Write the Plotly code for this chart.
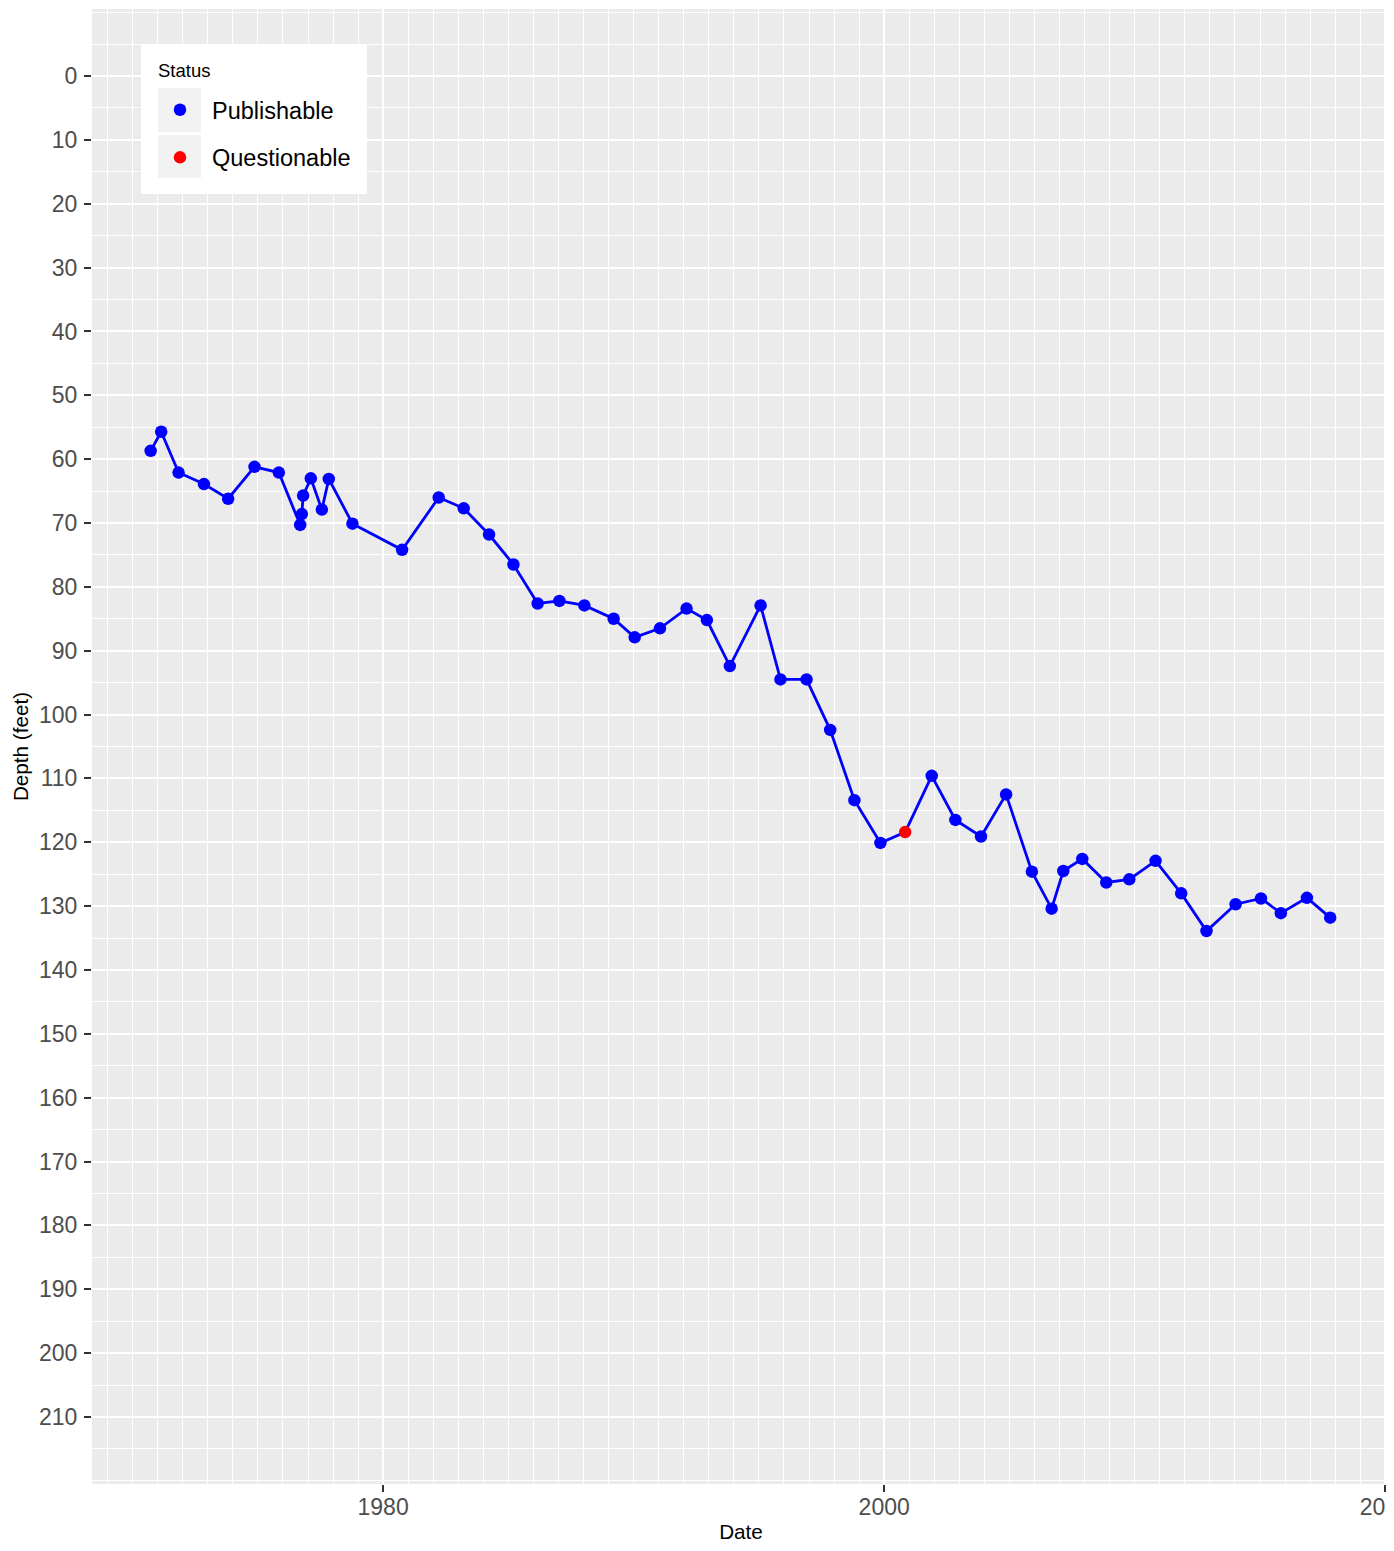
import pandas as pd
import plotly.graph_objects as go

# groundwater level record, depth below land surface
dates = [
    "1970-09-21", "1971-02-22", "1971-11-02", "1972-11-06", "1973-10-25",
    "1974-11-13", "1975-11-03", "1976-09-09", "1976-10-03", "1976-10-22",
    "1977-02-11", "1977-07-22", "1977-10-31", "1978-10-11", "1980-10-04",
    "1982-03-22", "1983-03-21", "1984-03-24", "1985-03-15", "1986-03-03",
    "1987-01-14", "1988-01-13", "1989-03-15", "1990-01-16", "1991-01-19",
    "1992-02-11", "1992-12-03", "1993-11-03", "1995-01-25", "1995-11-11",
    "1996-11-25", "1997-11-05", "1998-10-24", "1999-11-07", "2000-11-02",
    "2001-11-24", "2002-11-04", "2003-11-13", "2004-11-12", "2005-11-23",
    "2006-09-07", "2007-02-24", "2007-11-28", "2008-11-12", "2009-10-13",
    "2010-10-31", "2011-11-09", "2012-11-12", "2014-01-10", "2015-01-15",
    "2015-11-01", "2016-11-15", "2017-10-20",
]
depth = [
    58.7, 55.7, 62.1, 63.9, 66.2,
    61.2, 62.1, 70.3, 68.6, 65.7,
    63.0, 67.9, 63.1, 70.1, 74.2,
    66.0, 67.7, 71.8, 76.5, 82.6,
    82.2, 82.9, 85.0, 87.9, 86.5,
    83.4, 85.2, 92.4, 82.9, 94.5,
    94.5, 102.4, 113.4, 120.1, 118.4,
    109.6, 116.5, 119.1, 112.5, 124.6,
    130.4, 124.5, 122.6, 126.3, 125.8,
    122.9, 128.0, 133.9, 129.7, 128.8,
    131.1, 128.7, 131.8,
]
status = ["Publishable"] * 34 + ["Questionable"] + ["Publishable"] * 18

status_colors = {"Publishable": "#0000FF", "Questionable": "#FF0000"}

depth_ticks = list(range(0, 211, 10))

df = pd.DataFrame({"Date": pd.to_datetime(dates), "Depth": depth, "Status": status})

# the page body adds an 8px margin, so the figure is shifted and trimmed
W, H = 1386, 1535
L, R, T, B = 84, 4, 1, 59
PW, PH = W - L - R, H - T - B
OFF = 8


def px_x(x):
    # screen pixel -> paper fraction
    return (x - OFF - L) / PW


def px_y(y):
    return (H - B - (y - OFF)) / PH


FONT = "Liberation Sans, Arial, sans-serif"

fig = go.Figure()

fig.add_trace(go.Scatter(
    x=df.Date, y=df.Depth, mode="lines",
    line=dict(color="#0000FF", width=2.8),
    showlegend=False, hoverinfo="skip",
))

for i, (name, color) in enumerate(status_colors.items()):
    sub = df[df.Status == name]
    fig.add_trace(go.Scatter(
        x=sub.Date, y=sub.Depth, mode="markers", name=name,
        legendgroup=f"g{i}",
        marker=dict(color=color, size=12.5, line=dict(width=0)),
    ))

# legend background and key boxes
shapes = [
    dict(type="rect", xref="paper", yref="paper",
         x0=px_x(141), x1=px_x(367), y0=px_y(194), y1=px_y(45),
         fillcolor="white", line=dict(width=0), layer="above"),
    dict(type="rect", xref="paper", yref="paper",
         x0=px_x(158), x1=px_x(201), y0=px_y(132), y1=px_y(88),
         fillcolor="#F2F2F2", line=dict(width=0), layer="above"),
    dict(type="rect", xref="paper", yref="paper",
         x0=px_x(158), x1=px_x(201), y0=px_y(178), y1=px_y(135),
         fillcolor="#F2F2F2", line=dict(width=0), layer="above"),
]

fig.update_layout(
    width=W, height=H,
    margin=dict(l=L, r=R, t=T, b=B, autoexpand=False),
    paper_bgcolor="white",
    plot_bgcolor="#EBEBEB",
    font=dict(family=FONT, color="black"),
    shapes=shapes,
    legend=dict(
        x=px_x(148), y=px_y(88), xanchor="left", yanchor="top",
        bgcolor="rgba(0,0,0,0)",
        font=dict(size=23.5, color="black"),
        traceorder="grouped", tracegroupgap=14,
        itemwidth=54,
    ),
    annotations=[
        dict(text="Status", xref="paper", yref="paper",
             x=px_x(156), y=px_y(70), xanchor="left", yanchor="middle",
             showarrow=False, font=dict(size=18.5, color="black")),
    ],
)

fig.update_xaxes(
    type="date",
    range=["1968-05-19", "2020-03-10"],
    tick0="1980-01-01", dtick="M240", tickformat="%Y",
    showgrid=True, gridcolor="white", gridwidth=2.2,
    minor=dict(dtick="M12", tick0="1980-01-01", showgrid=True,
               gridcolor="white", gridwidth=1.1),
    ticks="outside", ticklen=7, tickwidth=2, tickcolor="#333333",
    tickfont=dict(size=23, color="#4D4D4D"),
    ticklabelstandoff=-5, ticklabeloverflow="allow",
    title=dict(text="Date", font=dict(size=20.7, color="black"), standoff=11),
    zeroline=False, showline=False, automargin=False,
)

fig.update_yaxes(
    autorange=False, range=[220.5, -10.5],
    tickmode="array", tickvals=depth_ticks,
    showgrid=True, gridcolor="white", gridwidth=2.2,
    minor=dict(dtick=5, tick0=0, showgrid=True,
               gridcolor="white", gridwidth=1.1),
    ticks="outside", ticklen=7, tickwidth=2, tickcolor="#333333",
    tickfont=dict(size=23, color="#4D4D4D"),
    ticklabelstandoff=2,
    title=dict(text="Depth (feet)", font=dict(size=20.7, color="black"), standoff=4),
    zeroline=False, showline=False, automargin=False,
)

fig.write_html("out.html")
